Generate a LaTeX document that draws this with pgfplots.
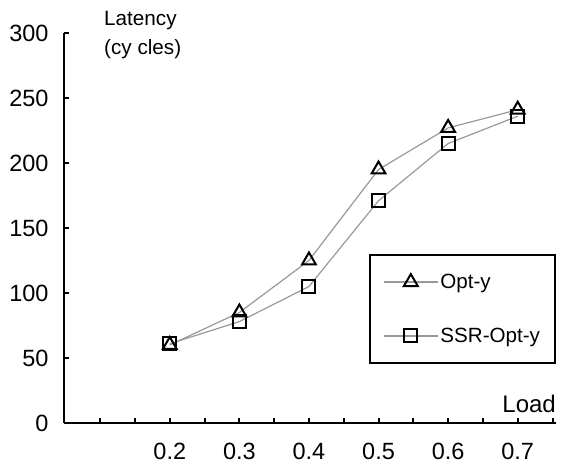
\documentclass[border=0pt]{standalone}
\usepackage{pgfplots}
\pgfplotsset{compat=1.18}
\usepackage{fontspec}
\setmainfont{Liberation Sans}
\begin{document}
\begin{tikzpicture}
\useasboundingbox (-64pt,-47pt) rectangle (497pt,423pt);
\begin{axis}[
  at={(0pt,0pt)}, anchor=south west,
  scale only axis, width=492pt, height=390pt,
  xmin=0.048, xmax=0.755, ymin=0, ymax=300,
  axis x line*=bottom, axis y line*=left,
  axis line style={line width=2.6pt, -},
  xtick={0.2,0.3,0.4,0.5,0.6,0.7},
  xticklabels={0.2,0.3,0.4,0.5,0.6,0.7},
  minor xtick={0.1,0.15,0.25,0.35,0.45,0.55,0.65,0.75},
  ytick={0,50,100,150,200,250,300},
  tick align=inside,
  major tick length=5pt, minor tick length=5pt,
  every tick/.style={black, line width=2pt},
  tick label style={font=\fontsize{23.5}{26}\selectfont},
  /pgf/number format/assume math mode=true,
  /pgf/number format/fixed, /pgf/number format/precision=1,
  xticklabel style={yshift=-17pt},
  yticklabel style={xshift=-12pt},
  clip=false,
  legend cell align=left,
  legend style={at={(1,0.433)}, anchor=north east, draw=black, line width=2pt,
    font=\fontsize{20.6}{24}\selectfont, row sep=34pt, inner xsep=13pt, inner ysep=17pt},
  legend image code/.code={\draw[#1, mark repeat=2, mark phase=2] plot coordinates {(0pt,0pt) (27pt,0pt) (54pt,0pt)};},
]
\addplot[color=black!40, line width=1.2pt, mark=triangle, mark size=8pt,
  mark options={draw=black, line width=2pt, solid}]
  coordinates {(0.2,60) (0.3,85) (0.4,125) (0.5,195) (0.6,227) (0.7,241)};
\addlegendentry{Opt-y}
\addplot[color=black!40, line width=1.2pt, mark=square, mark size=6.5pt,
  mark options={draw=black, line width=2pt, solid}]
  coordinates {(0.2,61) (0.3,78) (0.4,105) (0.5,171) (0.6,215) (0.7,236)};
\addlegendentry{SSR-Opt-y}
\node[anchor=base east, font=\fontsize{24}{26}\selectfont, inner sep=0pt] at (rel axis cs:1,0.028) {Load};
\node[anchor=base west, font=\fontsize{20.7}{22}\selectfont, inner sep=0pt] at (rel axis cs:0.0813,1.018) {Latency};
\node[anchor=base west, font=\fontsize{20.7}{22}\selectfont, inner sep=0pt] at (rel axis cs:0.0813,0.946) {(cy cles)};
\end{axis}
\end{tikzpicture}
\end{document}
